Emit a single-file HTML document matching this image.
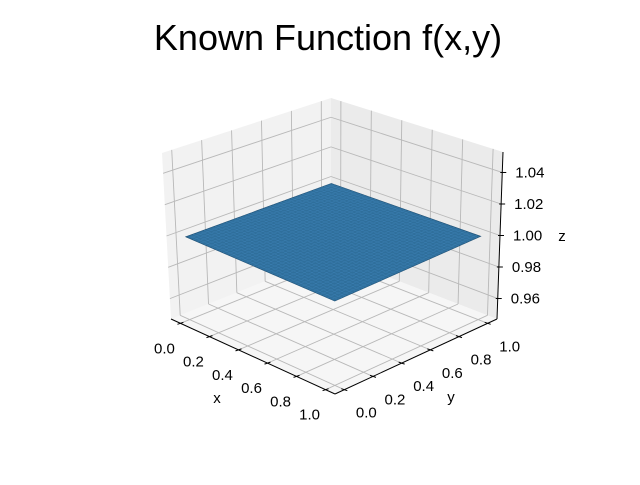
<!DOCTYPE html>
<html><head><meta charset="utf-8"><style>
body{margin:0;background:#fff;}
svg text{font-family:"Liberation Sans","DejaVu Sans",sans-serif;}
</style></head><body>
<svg id="chart" width="640" height="480" viewBox="0 0 640 480" xmlns="http://www.w3.org/2000/svg">
<rect width="640" height="480" fill="#fff"/>
<text x="328" y="50" font-size="36" text-anchor="middle">Known Function f(x,y)</text>
<g id="g"></g>
</svg>
<script>
const xTicks = [0, 0.2, 0.4, 0.6, 0.8, 1.0];
const yTicks = [0, 0.2, 0.4, 0.6, 0.8, 1.0];
const zTicks = [0.96, 0.98, 1.00, 1.02, 1.04];
const xTickLabels = ["0.0","0.2","0.4","0.6","0.8","1.0"];
const yTickLabels = ["0.0","0.2","0.4","0.6","0.8","1.0"];
const zTickLabels = ["0.96","0.98","1.00","1.02","1.04"];
const surfX = [0, 1];
const surfY = [0, 1];
const surfZ = [[1.0, 1.0],[1.0, 1.0]];

const XL=[-0.065,1.065], YL=[-0.065,1.065], ZL=[0.947,1.053];
const C={
 '000':[171,319],'010':[331,255],'110':[497,319],'100':[335,394],
 '001':[162,153],'011':[331,98],'111':[503,152],'101':[335,225]
};
function lerp(a,b,t){return [a[0]+(b[0]-a[0])*t,a[1]+(b[1]-a[1])*t];}
function P(x,y,z){
 const u=(x-XL[0])/(XL[1]-XL[0]), v=(y-YL[0])/(YL[1]-YL[0]), w=(z-ZL[0])/(ZL[1]-ZL[0]);
 const c=k=>C[k];
 const b0=lerp(lerp(c('000'),c('100'),u),lerp(c('010'),c('110'),u),v);
 const b1=lerp(lerp(c('001'),c('101'),u),lerp(c('011'),c('111'),u),v);
 return lerp(b0,b1,w);
}
const g=document.getElementById('g');
const NS='http://www.w3.org/2000/svg';
function mk(tag,attrs,name,parent){const e=document.createElementNS(NS,tag);for(const k in attrs)e.setAttribute(k,attrs[k]);
 
 
 (parent||g).appendChild(e);return e;}
function poly(pts){return pts.map(p=>p[0].toFixed(1)+','+p[1].toFixed(1)).join(' ');}
mk('polygon',{points:poly([P(XL[0],YL[0],ZL[0]),P(XL[0],YL[1],ZL[0]),P(XL[0],YL[1],ZL[1]),P(XL[0],YL[0],ZL[1])]),fill:'#f2f2f2'},'x-pane');
mk('polygon',{points:poly([P(XL[0],YL[1],ZL[0]),P(XL[1],YL[1],ZL[0]),P(XL[1],YL[1],ZL[1]),P(XL[0],YL[1],ZL[1])]),fill:'#ebebeb'},'y-pane');
mk('polygon',{points:poly([P(XL[0],YL[0],ZL[0]),P(XL[1],YL[0],ZL[0]),P(XL[1],YL[1],ZL[0]),P(XL[0],YL[1],ZL[0])]),fill:'#f6f6f6'},'floor-pane');
function line(a,b,st,w,name){mk('line',{x1:a[0],y1:a[1],x2:b[0],y2:b[1],stroke:st,'stroke-width':w},name);}
const gc='#b8b8b8';
xTicks.forEach(t=>{line(P(t,YL[0],ZL[0]),P(t,YL[1],ZL[0]),gc,0.9,'x-gridline');line(P(t,YL[1],ZL[0]),P(t,YL[1],ZL[1]),gc,0.9,'x-gridline');});
yTicks.forEach(t=>{line(P(XL[0],t,ZL[0]),P(XL[1],t,ZL[0]),gc,0.9,'y-gridline');line(P(XL[0],t,ZL[0]),P(XL[0],t,ZL[1]),gc,0.9,'y-gridline');});
zTicks.forEach(t=>{line(P(XL[0],YL[0],t),P(XL[0],YL[1],t),gc,0.9,'z-gridline');line(P(XL[0],YL[1],t),P(XL[1],YL[1],t),gc,0.9,'z-gridline');});
line(P(XL[0],YL[0],ZL[0]),P(XL[1],YL[0],ZL[0]),'#000',1,'x-axis-line');
line(P(XL[1],YL[0],ZL[0]),P(XL[1],YL[1],ZL[0]),'#000',1,'y-axis-line');
line(P(XL[1],YL[1],ZL[0]),P(XL[1],YL[1],ZL[1]),'#000',1,'z-axis-line');
xTicks.forEach((t,i)=>{const p=P(t,YL[0],ZL[0]);line([p[0]-3,p[1]+1],[p[0]+3,p[1]-1],'#000',1,'x-tick');
 const tx=mk('text',{x:p[0]-16,y:p[1]+30,'font-size':15,'text-anchor':'middle'},'x-tick-label');tx.textContent=xTickLabels[i];});
yTicks.forEach((t,i)=>{const p=P(XL[1],t,ZL[0]);line([p[0]-3,p[1]-1],[p[0]+3,p[1]+1],'#000',1,'y-tick');
 const tx=mk('text',{x:p[0]+22,y:p[1]+28,'font-size':15,'text-anchor':'middle'},'y-tick-label');tx.textContent=yTickLabels[i];});
zTicks.forEach((t,i)=>{const p=P(XL[1],YL[1],t);line([p[0]-2,p[1]],[p[0]+4,p[1]],'#000',1,'z-tick');
 const tx=mk('text',{x:p[0]+13,y:p[1]+5,'font-size':15},'z-tick-label');tx.textContent=zTickLabels[i];});
const xl=mk('text',{x:217,y:403,'font-size':15,'text-anchor':'middle'},'x-axis-title');xl.textContent='x';
const yl=mk('text',{x:451,y:402,'font-size':15,'text-anchor':'middle'},'y-axis-title');yl.textContent='y';
const zl=mk('text',{x:562,y:241,'font-size':15,'text-anchor':'middle'},'z-axis-title');zl.textContent='z';
const sx0=surfX[0],sx1=surfX[surfX.length-1],sy0=surfY[0],sy1=surfY[surfY.length-1];
mk('polygon',{points:poly([P(sx0,sy0,surfZ[0][0]),P(sx1,sy0,surfZ[1][0]),P(sx1,sy1,surfZ[1][1]),P(sx0,sy1,surfZ[0][1])]),fill:'#2f6f9c',stroke:'#1f4f73','stroke-width':0.6},'surface');
const N=40;
for(let i=1;i<N;i++){const t=i/N;
 const zA=surfZ[0][0]+(surfZ[1][0]-surfZ[0][0])*t, zB=surfZ[0][1]+(surfZ[1][1]-surfZ[0][1])*t;
 line(P(sx0+(sx1-sx0)*t,sy0,zA),P(sx0+(sx1-sx0)*t,sy1,zB),'#3d82b5',0.4,'surface-mesh');
 const zC=surfZ[0][0]+(surfZ[0][1]-surfZ[0][0])*t, zD=surfZ[1][0]+(surfZ[1][1]-surfZ[1][0])*t;
 line(P(sx0,sy0+(sy1-sy0)*t,zC),P(sx1,sy0+(sy1-sy0)*t,zD),'#3d82b5',0.4,'surface-mesh');}
</script>
</body></html>
